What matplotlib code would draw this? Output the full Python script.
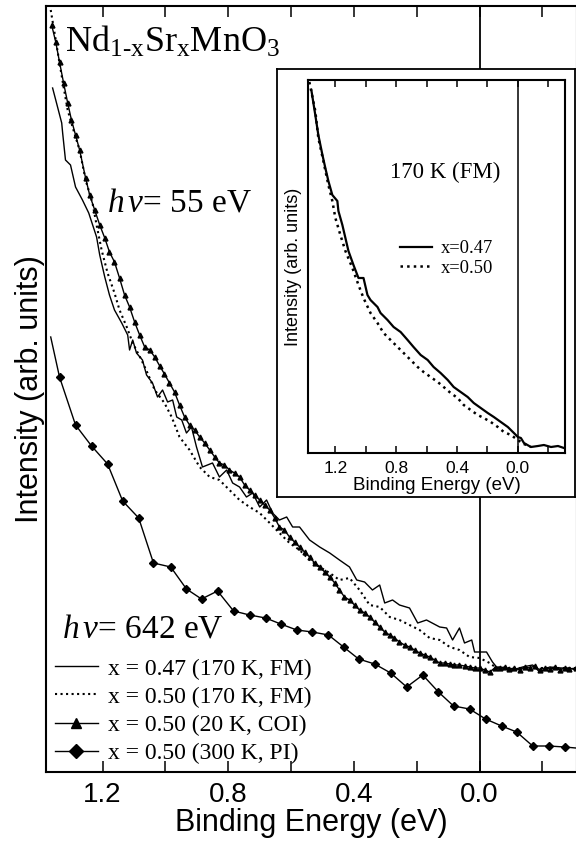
import matplotlib
matplotlib.use('Agg')
import matplotlib.pyplot as plt

# fonts: Arial-like for axes, Times-like for annotations
SANS = 'Liberation Sans'
SERIF = 'Liberation Serif'
plt.rcParams['font.family'] = SANS
plt.rcParams['mathtext.fontset'] = 'custom'
plt.rcParams['mathtext.rm'] = 'Liberation Serif'
plt.rcParams['mathtext.it'] = 'Liberation Serif:italic'

# ---- main panel data (binding energy in eV, intensity in arb. units) ----
# x = 0.47, 170 K, FM (solid)
e_047 = [1.359, 1.349, 1.330, 1.327, 1.318, 1.302, 1.286, 1.264, 1.244, 1.219,
         1.209, 1.193, 1.178, 1.162, 1.139, 1.120, 1.114, 1.104, 1.092, 1.073,
         1.060, 1.041, 1.025, 1.009, 0.993, 0.977, 0.964, 0.948, 0.933, 0.917,
         0.901, 0.882, 0.850, 0.828, 0.805, 0.786, 0.764, 0.742, 0.722, 0.700,
         0.678, 0.659, 0.637, 0.614, 0.595, 0.573, 0.541, 0.509, 0.477, 0.446,
         0.414, 0.391, 0.366, 0.341, 0.318, 0.302, 0.277, 0.255, 0.223, 0.197,
         0.169, 0.127, 0.105, 0.086, 0.064, 0.048, 0.025, 0.016, -0.022, -0.041,
         -0.054, -0.064, -0.086, -0.105, -0.137, -0.169, -0.191, -0.223, -0.255, -0.286,
         -0.306]
i_047 = [684, 672, 649, 639, 612, 607, 585, 572, 559, 535,
         517, 495, 477, 462, 449, 437, 422, 432, 419, 412,
         397, 389, 375, 382, 370, 372, 355, 352, 339, 345,
         325, 305, 309, 295, 302, 289, 285, 275, 279, 265,
         272, 259, 252, 255, 245, 245, 232, 225, 219, 212,
         205, 192, 190, 182, 187, 169, 172, 167, 164, 149,
         152, 145, 144, 132, 144, 129, 132, 120, 120, 110,
         105, 105, 103, 102, 105, 107, 100, 105, 104, 104,
         102]

# x = 0.50, 170 K, FM (dotted)
e_050 = [1.365, 1.349, 1.337, 1.324, 1.311, 1.302, 1.286, 1.273, 1.254, 1.232,
         1.219, 1.203, 1.184, 1.162, 1.146, 1.123, 1.104, 1.076, 1.057, 1.034,
         1.003, 0.980, 0.955, 0.923, 0.891, 0.859, 0.828, 0.796, 0.764, 0.732,
         0.700, 0.668, 0.637, 0.605, 0.573, 0.541, 0.509, 0.477, 0.446, 0.414,
         0.382, 0.350, 0.318, 0.286, 0.255, 0.223, 0.191, 0.159, 0.127, 0.095,
         0.064, 0.032, 0.000, -0.032, -0.054, -0.086, -0.127, -0.191, -0.255, -0.306]
i_050 = [762, 732, 709, 685, 662, 652, 635, 622, 592, 569,
         547, 522, 499, 479, 462, 445, 429, 412, 399, 382,
         369, 355, 335, 322, 305, 295, 292, 282, 272, 265,
         259, 249, 239, 229, 222, 212, 205, 199, 192, 194,
         182, 167, 165, 155, 152, 147, 142, 134, 132, 125,
         122, 115, 114, 109, 104, 104, 104, 104, 104, 104]

# x = 0.50, 20 K, COI (triangles)
e_coi = [1.362, 1.349, 1.337, 1.324, 1.311, 1.299, 1.286, 1.273, 1.254, 1.241,
         1.225, 1.209, 1.193, 1.178, 1.162, 1.146, 1.130, 1.114, 1.098, 1.082,
         1.066, 1.050, 1.034, 1.018, 1.003, 0.987, 0.971, 0.955, 0.939, 0.923,
         0.907, 0.891, 0.875, 0.859, 0.843, 0.828, 0.812, 0.796, 0.780, 0.764,
         0.748, 0.732, 0.716, 0.700, 0.684, 0.668, 0.652, 0.637, 0.621, 0.605,
         0.589, 0.573, 0.557, 0.541, 0.525, 0.509, 0.493, 0.477, 0.461, 0.446,
         0.430, 0.414, 0.398, 0.382, 0.366, 0.350, 0.334, 0.318, 0.302, 0.286,
         0.271, 0.255, 0.239, 0.223, 0.207, 0.191, 0.175, 0.159, 0.143, 0.127,
         0.111, 0.095, 0.080, 0.064, 0.048, 0.032, 0.016, 0.000, -0.016, -0.032,
         -0.048, -0.064, -0.080, -0.095, -0.111, -0.127, -0.143, -0.159, -0.175, -0.191,
         -0.207, -0.223, -0.239, -0.255, -0.271, -0.286, -0.306]
i_coi = [747, 730, 710, 689, 669, 652, 637, 622, 594, 577,
         562, 547, 534, 520, 510, 494, 477, 465, 450, 437,
         425, 422, 415, 406, 398, 389, 380, 367, 355, 347,
         342, 335, 329, 322, 315, 309, 307, 302, 299, 295,
         287, 282, 277, 272, 267, 262, 254, 245, 242, 235,
         230, 225, 220, 215, 209, 205, 200, 195, 189, 182,
         175, 172, 167, 162, 159, 155, 150, 145, 140, 137,
         134, 130, 127, 125, 122, 119, 117, 115, 112, 109,
         109, 108, 107, 107, 106, 105, 104, 104, 102, 100,
         104, 104, 105, 103, 104, 102, 105, 104, 106, 102,
         104, 103, 105, 102, 104, 103, 104]

# x = 0.50, 300 K, PI, hv = 642 eV (diamonds)
e_pi = [1.365, 1.337, 1.286, 1.235, 1.184, 1.136, 1.085, 1.038, 0.983, 0.933,
        0.885, 0.834, 0.783, 0.732, 0.681, 0.633, 0.582, 0.532, 0.481, 0.433,
        0.385, 0.334, 0.283, 0.232, 0.181, 0.131, 0.083, 0.032, -0.019, -0.070,
        -0.118, -0.169, -0.220, -0.271, -0.306]
i_pi = [435, 395, 347, 326, 308, 271, 254, 209, 205, 183,
        173, 181, 161, 157, 154, 148, 142, 140, 137, 125,
        113, 108, 99, 85, 97, 80, 66, 63, 53, 46,
        40, 26, 26, 25, 24]

# ---- inset data (170 K, FM) ----
e_in047 = [1.358, 1.332, 1.312, 1.285, 1.266, 1.246, 1.220, 1.187, 1.180, 1.154,
           1.134, 1.114, 1.081, 1.048, 1.015, 0.989, 0.969, 0.923, 0.903, 0.857,
           0.817, 0.771, 0.725, 0.686, 0.639, 0.593, 0.554, 0.508, 0.461, 0.422,
           0.376, 0.330, 0.290, 0.244, 0.198, 0.158, 0.112, 0.066, 0.026, 0.000,
           -0.020, -0.040, -0.086, -0.132, -0.171, -0.218, -0.264, -0.303]
i_in047 = [363, 338, 318, 298, 285, 272, 258, 252, 242, 228,
           215, 202, 188, 175, 175, 158, 153, 146, 140, 133,
           126, 121, 113, 106, 98, 93, 86, 80, 73, 66,
           61, 56, 50, 45, 40, 36, 31, 26, 20, 16,
           15, 10, 6, 7, 8, 6, 7, 5]
e_in050 = [1.371, 1.332, 1.312, 1.279, 1.246, 1.220, 1.200, 1.167, 1.134, 1.088,
           1.048, 1.015, 0.969, 0.923, 0.883, 0.837, 0.791, 0.751, 0.705, 0.659,
           0.620, 0.574, 0.527, 0.488, 0.442, 0.396, 0.356, 0.310, 0.264, 0.224,
           0.178, 0.132, 0.092, 0.046, 0.000, -0.040, -0.086]
i_in050 = [371, 342, 315, 292, 268, 252, 235, 218, 202, 185,
           168, 155, 140, 130, 120, 113, 106, 100, 93, 86,
           81, 76, 71, 66, 60, 55, 48, 43, 38, 35,
           31, 26, 21, 18, 13, 9, 6]

major_ticks = [1.2, 0.8, 0.4, 0.0]
minor_ticks = [1.0, 0.6, 0.2, -0.2]
tick_labels = ['1.2', '0.8', '0.4', '0.0']

fig = plt.figure(figsize=(5.76, 8.42), dpi=100)

# main panel
ax = fig.add_axes([46/576, 70/842, 531/576, 766/842])
ax.axvline(0, color='k', lw=1.3, zorder=1)
ax.plot(e_047, i_047, color='k', lw=1.0, label='x = 0.47 (170 K, FM)')
ax.plot(e_050, i_050, color='k', lw=1.5, ls=':', label='x = 0.50 (170 K, FM)')
ax.plot(e_coi, i_coi, color='k', lw=1.0, marker='^', ms=3.5, label='x = 0.50 (20 K, COI)')
ax.plot(e_pi, i_pi, color='k', lw=1.0, marker='D', ms=4.5, markevery=slice(1, 34),
        label='x = 0.50 (300 K, PI)')

ax.set_xlim(1.38, -0.31)
ax.set_ylim(0, 766)
ax.set_xticks(major_ticks)
ax.set_xticks(minor_ticks, minor=True)
ax.set_xticklabels(tick_labels)
ax.set_yticks([])
ax.tick_params(axis='x', which='both', direction='in', top=True, length=8, width=1.1,
               labelsize=20, pad=7)
for s in ax.spines.values():
    s.set_linewidth(1.5)
ax.set_xlabel('Binding Energy (eV)', fontsize=22, labelpad=0)
ax.set_ylabel('Intensity (arb. units)', fontsize=22, labelpad=1)

leg = ax.legend(loc='lower left', bbox_to_anchor=(9/531, 8/766), frameon=False,
                prop={'family': SERIF, 'size': 17}, handlelength=1.8,
                handletextpad=0.45, labelspacing=0.28, borderpad=0, borderaxespad=0)
for h in leg.legend_handles:
    h.set_markersize(7)

fig.text(65/576, (842-52)/842, r'Nd$_{\mathrm{1\text{-}x}}$Sr$_{\mathrm{x}}$MnO$_{3}$',
         family=SERIF, fontsize=26, va='baseline')
fig.text(107/576, (842-212)/842, r'$h\,\nu$= 55 eV', family=SERIF, fontsize=24, va='baseline')
fig.text(62/576, (842-638)/842, r'$h\,\nu$= 642 eV', family=SERIF, fontsize=24, va='baseline')

# white frame behind the inset
box = fig.add_axes([277/576, 345/842, 298/576, 428/842])
box.set_xticks([])
box.set_yticks([])
box.set_zorder(5)
for s in box.spines.values():
    s.set_linewidth(1.3)

# inset
ins = fig.add_axes([308/576, 389/842, 257/576, 373/842])
ins.set_zorder(6)
ins.axvline(0, color='k', lw=1.1, zorder=1)
ins.plot(e_in047, i_in047, color='k', lw=1.6, label='x=0.47')
ins.plot(e_in050, i_in050, color='k', lw=1.8, ls=':', label='x=0.50')
ins.set_xlim(1.38, -0.31)
ins.set_ylim(0, 373)
ins.set_xticks(major_ticks)
ins.set_xticks(minor_ticks, minor=True)
ins.set_xticklabels(tick_labels)
ins.set_yticks([])
ins.tick_params(axis='x', which='both', direction='in', top=True, length=5, width=1.1,
                labelsize=12.5, pad=6)
for s in ins.spines.values():
    s.set_linewidth(1.5)
ins.set_xlabel('Binding Energy (eV)', fontsize=13.5, labelpad=0.5)
ins.set_ylabel('Intensity (arb. units)', fontsize=13, labelpad=4)
ins.text((390-308)/257, (453-178)/373, '170 K (FM)', transform=ins.transAxes,
         family=SERIF, fontsize=16.5, va='baseline')
ins.legend(loc='upper left', bbox_to_anchor=((400-308)/257, (453-240)/373), frameon=False,
           prop={'family': SERIF, 'size': 13.3}, handlelength=1.75, handletextpad=0.45,
           labelspacing=0.15, borderpad=0, borderaxespad=0)

fig.savefig('out.png', dpi=100)
